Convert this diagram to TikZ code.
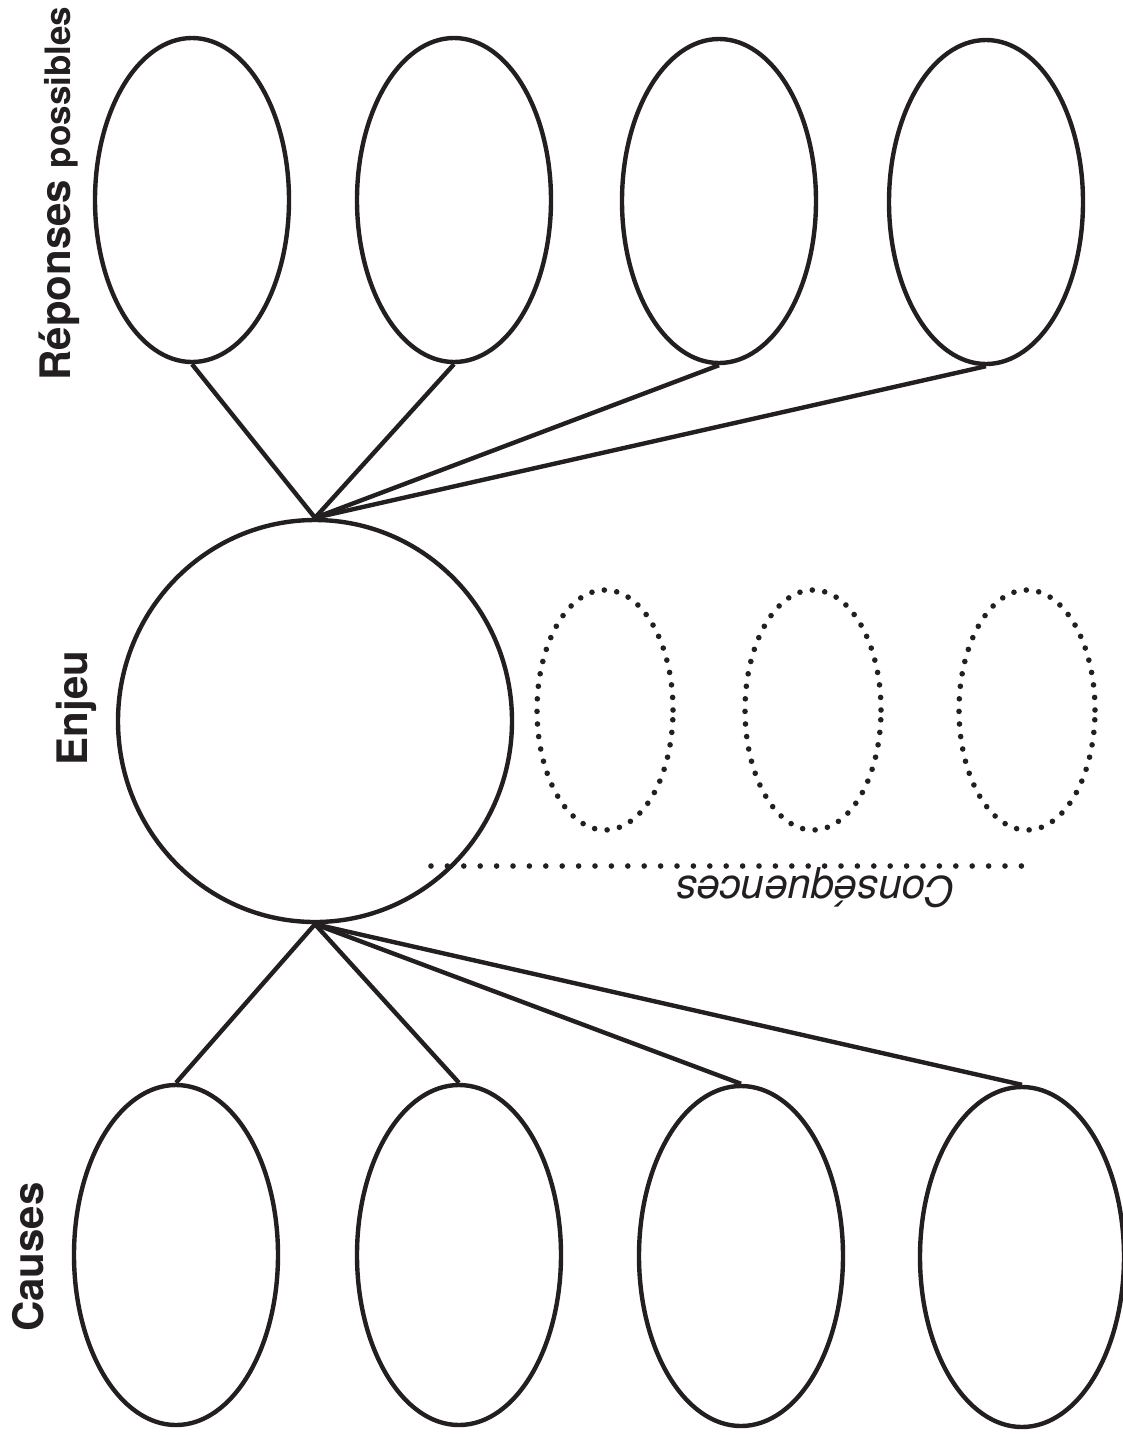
\documentclass[tikz,border=0pt]{standalone}
\usepackage{fontspec}
\setmainfont{TeX Gyre Heros}
\usetikzlibrary{shapes.geometric}
\definecolor{ink}{RGB}{35,31,32}
\begin{document}
\begin{tikzpicture}[x=0.5pt,y=-0.5pt,
  resp/.style={ellipse, draw=ink, line width=2.2pt, minimum width=97pt, minimum height=162pt, inner sep=0pt},
  causebox/.style={ellipse, draw=ink, line width=2.2pt, minimum width=102pt, minimum height=170pt, inner sep=0pt},
  enjeubox/.style={ellipse, draw=ink, line width=2.2pt, minimum width=197pt, minimum height=201pt, inner sep=0pt},
  consbox/.style={ellipse, draw=ink, line width=2.8pt, line cap=round, dash pattern=on 0pt off 6.3pt, minimum width=68pt, minimum height=120pt, inner sep=0pt},
  link/.style={draw=ink, line width=2.2pt},
  dotline/.style={draw=ink, line width=2.8pt, line cap=round, dash pattern=on 0pt off 8.2pt},
  lbl/.style={font=\bfseries\fontsize{21}{25}\selectfont, text=ink, rotate=90, inner sep=0pt}
]
\useasboundingbox (0,0) rectangle (1123,1435);

% Reponses possibles
\node[resp] (r1) at (192,200) {};
\node[resp] (r2) at (454,200) {};
\node[resp] (r3) at (719,201) {};
\node[resp] (r4) at (986,202) {};

% Enjeu
\node[enjeubox] (e) at (315,721) {};

% Causes
\node[causebox] (c1) at (176,1255) {};
\node[causebox] (c2) at (459,1255) {};
\node[causebox] (c3) at (741,1256) {};
\node[causebox] (c4) at (1022,1257) {};

% Consequences
\node[consbox] (d1) at (605,710) {};
\node[consbox] (d2) at (813,710) {};
\node[consbox] (d3) at (1027,710) {};

% connectors
\foreach \n in {r1,r2,r3,r4} \draw[link] (e.north) -- (\n.south);
\foreach \n in {c1,c2,c3,c4} \draw[link] (e.south) -- (\n.north);

% dotted line
\coordinate (dl) at (431,866);
\coordinate (dr) at (1030,866);
\draw[dotline] (dl) -- (dr);

% labels
\node[lbl, anchor=base west] (lrep) at (70,381) {Réponses {\fontsize{17.5}{21}\selectfont possibles}};
\node[lbl, anchor=base] (lenj) at (87,708) {Enjeu};
\node[lbl, anchor=base] (lcau) at (43,1257) {Causes};
\node[font=\itshape\fontsize{21}{25}\selectfont, text=ink, rotate=180, anchor=base, inner sep=0pt] (lcons) at (816,876) {Conséquences};
\end{tikzpicture}
\end{document}
